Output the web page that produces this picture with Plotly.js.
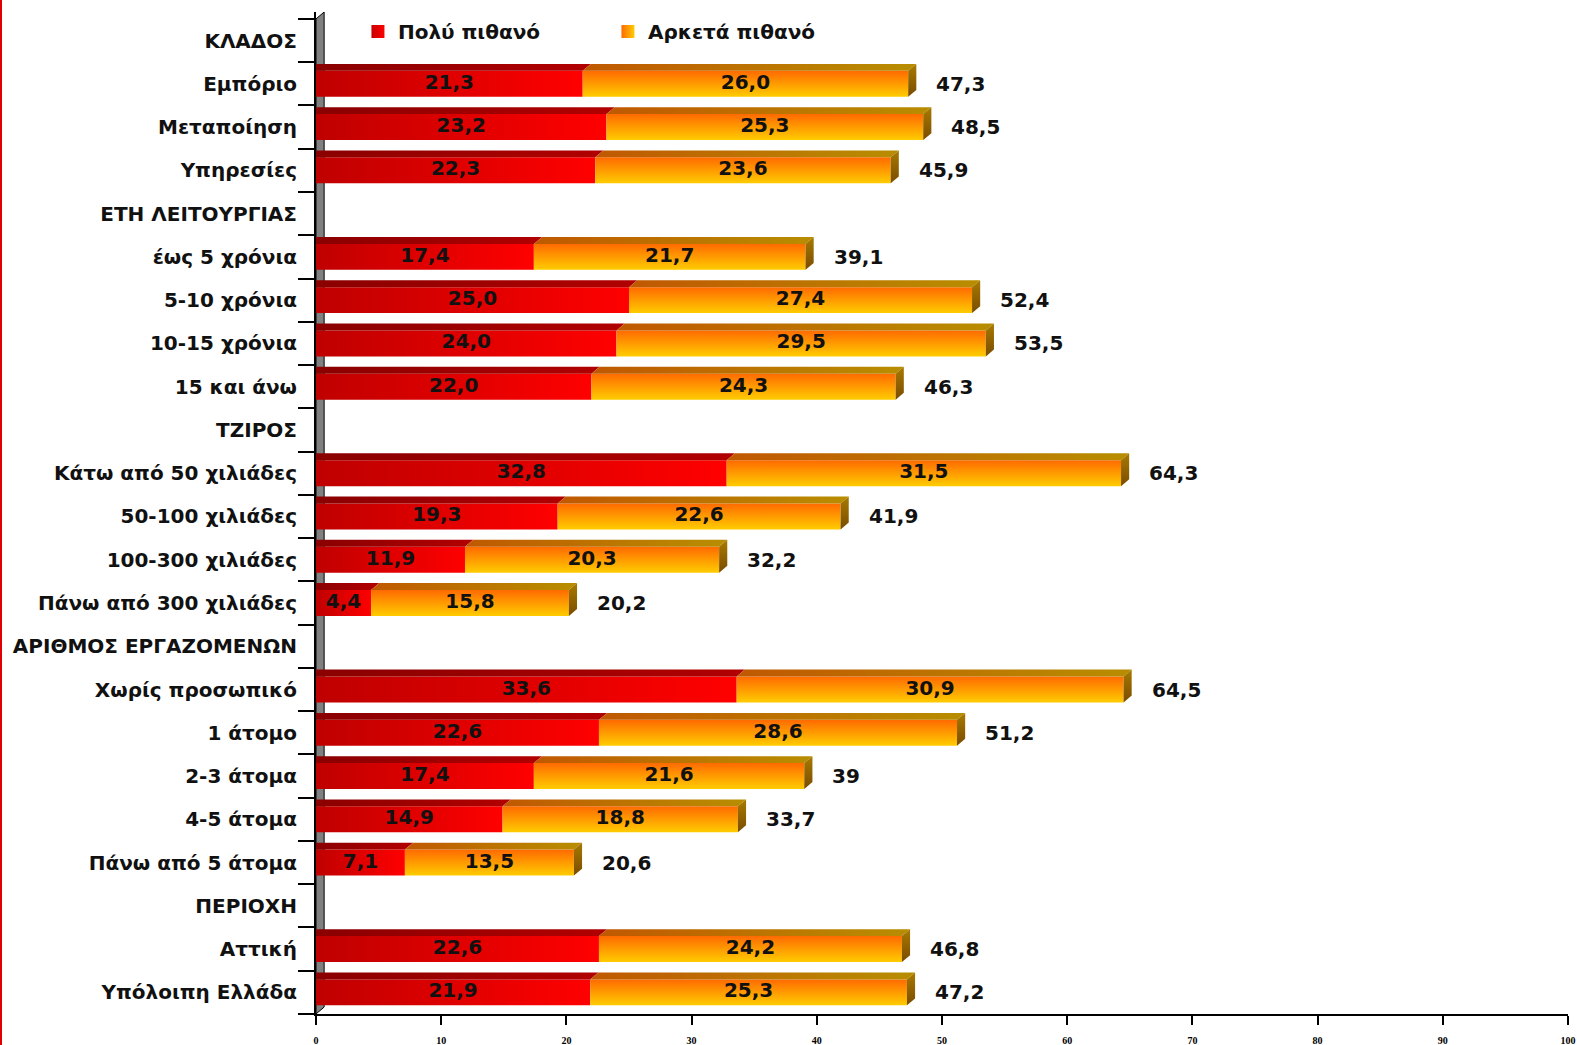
<!DOCTYPE html>
<html><head><meta charset="utf-8">
<script src="https://cdn.plot.ly/plotly-3.0.1.min.js"></script>
<style>html,body{margin:0;padding:0;background:#fff}#chart{width:1575px;height:1045px;border-left:2px solid #e00000}</style>
</head><body><div id="chart"></div><script>
const categories = ["ΚΛΑΔΟΣ","Εμπόριο","Μεταποίηση","Υπηρεσίες","ΕΤΗ ΛΕΙΤΟΥΡΓΙΑΣ","έως 5 χρόνια","5-10 χρόνια","10-15 χρόνια","15 και άνω","ΤΖΙΡΟΣ","Κάτω από 50 χιλιάδες","50-100 χιλιάδες","100-300 χιλιάδες","Πάνω από 300 χιλιάδες","ΑΡΙΘΜΟΣ ΕΡΓΑΖΟΜΕΝΩΝ","Χωρίς προσωπικό","1 άτομο","2-3 άτομα","4-5 άτομα","Πάνω από 5 άτομα","ΠΕΡΙΟΧΗ","Αττική","Υπόλοιπη Ελλάδα"];
const veryLikely   = [null,21.3,23.2,22.3,null,17.4,25.0,24.0,22.0,null,32.8,19.3,11.9,4.4,null,33.6,22.6,17.4,14.9,7.1,null,22.6,21.9];
const fairlyLikely = [null,26.0,25.3,23.6,null,21.7,27.4,29.5,24.3,null,31.5,22.6,20.3,15.8,null,30.9,28.6,21.6,18.8,13.5,null,24.2,25.3];
const totals       = [null,47.3,48.5,45.9,null,39.1,52.4,53.5,46.3,null,64.3,41.9,32.2,20.2,null,64.5,51.2,39,33.7,20.6,null,46.8,47.2];
const seriesNames = ["Πολύ πιθανό","Αρκετά πιθανό"];
const xTicks = [0,10,20,30,40,50,60,70,80,90,100];

const H = 0.3, TOP = 0.16, DX = 0.65;
const fmt1 = v => v.toFixed(1).replace('.', ',');
const fmtT = v => String(v).replace('.', ',');
const traces = [];
const poly = (xs, ys, grad) => ({type:'scatter', mode:'lines', x:xs, y:ys, fill:'toself', line:{width:0},
  fillgradient:grad, hoverinfo:'skip', showlegend:false});

const inX=[], inY=[], inT=[], totX=[], totY=[], totT=[];
categories.forEach((c, i) => {
  const r = veryLikely[i], o = fairlyLikely[i];
  if (r == null) return;
  const t = r + o;
  const yT = i - H, yB = i + H, yTT = yT - TOP;
  traces.push(poly([0,r,r,0,0],[yB,yB,yT,yT,yB],{type:'horizontal',start:0,stop:r,colorscale:[[0,'#bf0000'],[1,'#ff0000']]}));
  traces.push(poly([r,t,t,r,r],[yB,yB,yT,yT,yB],{type:'vertical',start:yT,stop:yB,colorscale:[[0,'#ff6a00'],[1,'#ffcc00']]}));
  traces.push(poly([0,r,r+DX,0,0],[yT,yT,yTT,yTT,yT],{type:'horizontal',start:0,stop:r,colorscale:[[0,'#8a0000'],[1,'#b00000']]}));
  traces.push(poly([r,t,t+DX,r+DX,r],[yT,yT,yTT,yTT,yT],{type:'horizontal',start:r,stop:t,colorscale:[[0,'#c05800'],[1,'#b88c00']]}));
  traces.push(poly([t,t+DX,t+DX,t,t],[yT,yTT,yB-TOP,yB,yT],{type:'vertical',start:yTT,stop:yB,colorscale:[[0,'#a87a00'],[1,'#7a4c00']]}));
  inX.push(r/2, r + o/2); inY.push(i, i); inT.push(fmt1(r), fmt1(o));
  totX.push(totals[i]); totY.push(i); totT.push(fmtT(totals[i]));
});
const font = {family:'DejaVu Sans, Verdana, sans-serif', size:20, weight:'bold', color:'#111'};
traces.push({type:'scatter', mode:'text', x:inX, y:inY, text:inT, textfont:font, hoverinfo:'skip', showlegend:false, cliponaxis:false});
traces.push({type:'scatter', mode:'markers', x:[null], y:[null], name:seriesNames[0], marker:{symbol:'square', size:13, color:'#c80000', gradient:{type:'horizontal', color:'#ff0000'}}});
traces.push({type:'scatter', mode:'markers', x:[null], y:[null], name:seriesNames[1], marker:{symbol:'square', size:13, color:'#ff6a00', gradient:{type:'horizontal', color:'#ffcc00'}}});

const annotations = totX.map((x, k) => ({x:x, y:totY[k], text:totT[k], showarrow:false, xanchor:'left', xshift:26, font:font}));

const layout = {
  width:1575, height:1045, margin:{l:314, r:9, t:12, b:31},
  paper_bgcolor:'#fff', plot_bgcolor:'#fff',
  showlegend:true,
  legend:{orientation:'h', x:0.0335, y:1.0, yanchor:'top', font:font, entrywidth:205, entrywidthmode:'pixels', bgcolor:'rgba(0,0,0,0)'},
  xaxis:{range:[0,100], tickmode:'array', tickvals:xTicks, ticktext:xTicks.map(String), ticks:'outside', ticklen:9, tickwidth:2, tickcolor:'#000',
    showline:true, linewidth:2, linecolor:'#000', showgrid:false, zeroline:false, ticklabelstandoff:7,
    tickfont:{family:'Liberation Serif, serif', size:10, weight:'bold', color:'#000'}},
  yaxis:{range:[22.5,-0.66], tickmode:'array', tickvals:categories.map((c,i)=>i), ticktext:categories, ticks:'',
    showline:true, linewidth:2, linecolor:'#000', showgrid:false, zeroline:false, ticklabelstandoff:13,
    minor:{tick0:-0.5, dtick:1, ticks:'outside', ticklen:16, tickwidth:2, tickcolor:'#000', showgrid:false},
    tickfont:font},
  shapes:[{type:'path', xref:'x', yref:'y', path:'M 0,22.5 L 0,-0.5 L 0.65,-0.66 L 0.65,22.34 Z', fillcolor:'#808080', line:{color:'#000', width:1}, layer:'below'}],
  annotations:annotations
};
Plotly.newPlot('chart', traces, layout, {displayModeBar:false, staticPlot:true});
</script></body></html>
